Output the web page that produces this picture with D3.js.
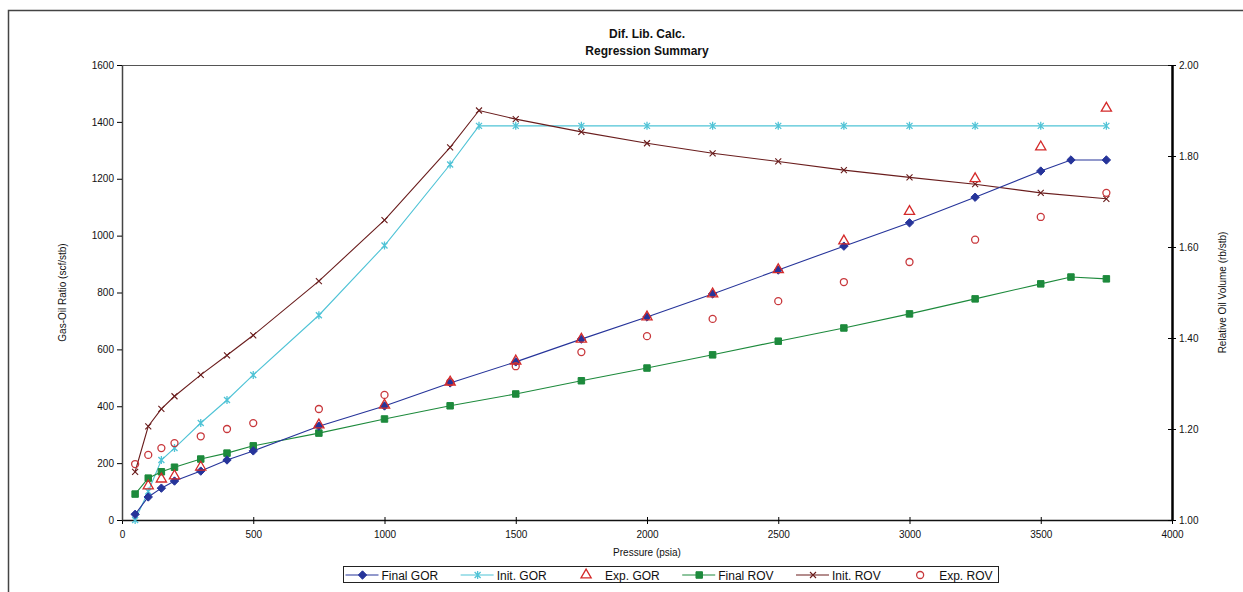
<!DOCTYPE html>
<html>
<head>
<meta charset="utf-8">
<script src="https://cdn.jsdelivr.net/npm/d3@7"></script>
<style>
  body { margin: 0; background: #fff; }
  text { font-family: "Liberation Sans", Arial, sans-serif; fill: #111; }
</style>
</head>
<body>
<div id="chart"></div>
<script>
// pressures (psia) for each series
var fullP = [50, 100, 150, 200, 300, 400, 500, 750, 1000, 1250, 1500, 1750, 2000, 2250, 2500, 2750, 3000, 3250, 3500, 3615, 3750];
var initP = [50, 100, 150, 200, 300, 400, 500, 750, 1000, 1250, 1360, 1500, 1750, 2000, 2250, 2500, 2750, 3000, 3250, 3500, 3750];
var expGorP = [100, 150, 200, 300, 750, 1000, 1250, 1500, 1750, 2000, 2250, 2500, 2750, 3000, 3250, 3500, 3750];
var expRovP = [50, 100, 150, 200, 300, 400, 500, 750, 1000, 1250, 1500, 1750, 2000, 2250, 2500, 2750, 3000, 3250, 3500, 3750];

// gas-oil ratio (scf/stb)
var finalGor = [20, 81, 112, 137, 172, 211, 243, 330, 401, 482, 556, 636, 714, 795, 879, 963, 1045, 1135, 1227, 1266, 1266];
var initGor = [0, 100, 211, 253, 341, 422, 510, 720, 965, 1250, 1386, 1386, 1386, 1386, 1386, 1386, 1386, 1386, 1386, 1386, 1386];
var expGor = [120, 144, 155, 186, 334, 404, 485, 559, 636, 714, 795, 880, 981, 1085, 1200, 1312, 1448];

// relative oil volume (rb/stb)
var finalRov = [1.057, 1.092, 1.106, 1.116, 1.134, 1.147, 1.163, 1.191, 1.222, 1.251, 1.277, 1.306, 1.334, 1.363, 1.393, 1.422, 1.453, 1.486, 1.519, 1.534, 1.530];
var initRov = [1.106, 1.206, 1.244, 1.272, 1.319, 1.362, 1.406, 1.525, 1.659, 1.819, 1.900, 1.881, 1.853, 1.828, 1.806, 1.788, 1.769, 1.753, 1.738, 1.719, 1.706];
var expRov = [1.123, 1.143, 1.158, 1.169, 1.184, 1.200, 1.213, 1.244, 1.275, 1.303, 1.338, 1.369, 1.404, 1.442, 1.481, 1.523, 1.567, 1.616, 1.666, 1.719];

var xTicks = [0, 500, 1000, 1500, 2000, 2500, 3000, 3500, 4000];
var gorTicks = [0, 200, 400, 600, 800, 1000, 1200, 1400, 1600];
var rovTicks = [1.0, 1.2, 1.4, 1.6, 1.8, 2.0];

var legendNames = ["Final GOR", "Init. GOR", "Exp. GOR", "Final ROV", "Init. ROV", "Exp. ROV"];

var W = 1243, H = 592;
var margin = {top: 65, right: 71, bottom: 72, left: 122},
    width = W - margin.left - margin.right,
    height = H - margin.top - margin.bottom;

var svg = d3.select("#chart").append("svg")
  .attr("width", W).attr("height", H);

// outer frame
svg.append("rect")
  .attr("x", 8.5).attr("y", 10.5)
  .attr("width", W + 20).attr("height", H + 20)
  .attr("fill", "none").attr("stroke", "#444").attr("stroke-width", 1.5);

// titles
svg.append("text").attr("x", margin.left + width / 2).attr("y", 38)
  .attr("text-anchor", "middle").style("font-weight", "bold").style("font-size", "12px")
  .text("Dif. Lib. Calc.");
svg.append("text").attr("x", margin.left + width / 2).attr("y", 55)
  .attr("text-anchor", "middle").style("font-weight", "bold").style("font-size", "12px")
  .text("Regression Summary");

var g = svg.append("g")
  .attr("transform", "translate(" + margin.left + "," + margin.top + ")");

var x = d3.scaleLinear().domain([0, 4000]).range([0, width]);
var yL = d3.scaleLinear().domain([0, 1600]).range([height, 0]);
var yR = d3.scaleLinear().domain([1, 2]).range([height, 0]);

// plot area top edge
g.append("line").attr("x1", 0).attr("x2", width).attr("y1", 0.5).attr("y2", 0.5)
  .attr("stroke", "#555").attr("stroke-width", 1);

// axes
var xAxis = g.append("g").attr("transform", "translate(0," + height + ")")
  .call(d3.axisBottom(x).tickValues(xTicks).tickFormat(d3.format("d")).tickSizeInner(4).tickSizeOuter(0));
xAxis.selectAll(".tick line").attr("y1", -3);
xAxis.select(".domain").attr("stroke", "#111").attr("stroke-width", 1.5);

var yAxisL = g.append("g")
  .call(d3.axisLeft(yL).tickValues(gorTicks).tickFormat(d3.format("d")).tickSizeInner(5).tickSizeOuter(0));
yAxisL.select(".domain").attr("stroke", "#444").attr("stroke-width", 1.5);

var yAxisR = g.append("g").attr("transform", "translate(" + width + ",0)")
  .call(d3.axisRight(yR).tickValues(rovTicks).tickFormat(d3.format(".2f")).tickSizeInner(4).tickSizeOuter(0));
yAxisR.selectAll(".tick line").attr("x1", -4);
yAxisR.select(".domain").attr("stroke", "#000").attr("stroke-width", 2.5);

g.selectAll(".tick text").style("font-size", "10px").attr("fill", "#111");
xAxis.selectAll(".tick text").attr("dy", "1.1em");

// axis titles
svg.append("text").attr("transform", "translate(66," + (margin.top + height / 2) + ") rotate(-90)")
  .attr("text-anchor", "middle").style("font-size", "10px").text("Gas-Oil Ratio (scf/stb)");
svg.append("text").attr("transform", "translate(1226," + (margin.top + height / 2) + ") rotate(-90)")
  .attr("text-anchor", "middle").style("font-size", "10px").text("Relative Oil Volume (rb/stb)");
svg.append("text").attr("x", margin.left + width / 2).attr("y", 556)
  .attr("text-anchor", "middle").style("font-size", "10px").text("Pressure (psia)");

// marker drawing helpers
function drawMarker(sel, type, color) {
  if (type === "diamond") {
    sel.append("path").attr("d", "M0,-4.2L4.2,0L0,4.2L-4.2,0Z").attr("fill", color).attr("stroke", color);
  } else if (type === "square") {
    sel.append("path").attr("d", d3.symbol(d3.symbolSquare, 42)()).attr("fill", color).attr("stroke", color);
  } else if (type === "triangle") {
    sel.append("path").attr("d", d3.symbol(d3.symbolTriangle, 45)()).attr("fill", "none").attr("stroke", color).attr("stroke-width", 1.3);
  } else if (type === "circle") {
    sel.append("circle").attr("r", 3.5).attr("fill", "none").attr("stroke", color).attr("stroke-width", 1.3);
  } else if (type === "star") {
    sel.append("path").attr("d", "M-3,-3L3,3M-3,3L3,-3M0,-4L0,4").attr("stroke", color).attr("stroke-width", 1.3);
  } else if (type === "cross") {
    sel.append("path").attr("d", "M-3,-3L3,3M-3,3L3,-3").attr("stroke", color).attr("stroke-width", 1.1);
  }
}

function zip(ps, vs) { return ps.map(function(p, i) { return {p: p, v: vs[i]}; }); }

var series = [
  {name: "Final GOR", data: zip(fullP, finalGor), y: yL, color: "#26349a", line: true, marker: "diamond"},
  {name: "Init. GOR", data: zip(initP, initGor), y: yL, color: "#4fc3d6", line: true, marker: "star"},
  {name: "Exp. GOR", data: zip(expGorP, expGor), y: yL, color: "#d42a2a", line: false, marker: "triangle"},
  {name: "Final ROV", data: zip(fullP, finalRov), y: yR, color: "#1d8a3c", line: true, marker: "square"},
  {name: "Init. ROV", data: zip(initP, initRov), y: yR, color: "#6a1d1d", line: true, marker: "cross"},
  {name: "Exp. ROV", data: zip(expRovP, expRov), y: yR, color: "#c8383c", line: false, marker: "circle"}
];

var drawOrder = [1, 4, 3, 0, 5, 2];
drawOrder.forEach(function(k) {
  var s = series[k];
  if (s.line) {
    g.append("path").datum(s.data)
      .attr("fill", "none").attr("stroke", s.color).attr("stroke-width", 1.1)
      .attr("d", d3.line().x(function(d) { return x(d.p); }).y(function(d) { return s.y(d.v); }));
  }
  g.selectAll(".m" + k).data(s.data).enter().append("g")
    .attr("class", "m" + k)
    .attr("transform", function(d) { return "translate(" + x(d.p) + "," + s.y(d.v) + ")"; })
    .each(function() { drawMarker(d3.select(this), s.marker, s.color); });
});

// legend: lay out items, then spread them across the box width
var leg = svg.append("g");
var legX0 = 343.5, legX1 = 998.5;
var legBox = leg.append("rect").attr("x", legX0).attr("y", 566.5).attr("width", legX1 - legX0).attr("height", 16)
  .attr("fill", "#fff").attr("stroke", "#222").attr("stroke-width", 1);
var items = series.map(function(s, i) {
  var it = leg.append("g");
  if (s.line) {
    it.append("line").attr("x1", 0).attr("x2", 33).attr("stroke", s.color).attr("stroke-width", 1.2);
  }
  var mk = it.append("g").attr("transform", "translate(17,0)");
  drawMarker(mk, s.marker, s.color);
  var t = it.append("text").attr("x", 36).attr("y", 4.5).style("font-size", "12px").text(legendNames[i]);
  return {g: it, w: 36 + t.node().getComputedTextLength()};
});
var totalW = d3.sum(items, function(d) { return d.w; });
var gap = (legX1 - legX0 - 8 - totalW) / (items.length - 1);
var cx = legX0 + 2;
items.forEach(function(d) {
  d.g.attr("transform", "translate(" + cx + ",575)");
  cx += d.w + gap;
});
</script>
</body>
</html>
